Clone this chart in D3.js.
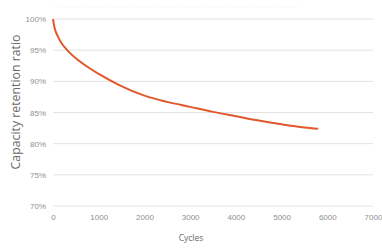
<!DOCTYPE html>
<html>
<head>
<meta charset="utf-8">
<script src="https://cdn.jsdelivr.net/npm/d3@7"></script>
<style>
body { margin: 0; background: #fff; }
.grid line { stroke: #e3e3e3; stroke-width: 1; }
.tick text { fill: #8f8f8f; font-family: "Liberation Sans", Arial, sans-serif; font-size: 8px; }
.label { fill: #6a6a6a; font-family: "Open Sans", "Noto Sans", sans-serif; }
</style>
</head>
<body>
<script>
//cycle counts and capacity retention (%)
var cycles = [0, 25, 50, 100, 200, 300, 500, 800, 1000, 1450, 2000, 2500, 3000, 3500, 4000, 4500, 5000, 5500, 5800];
var retention = [100, 98.9, 98.2, 97.3, 96.0, 95.1, 93.7, 92.1, 91.2, 89.4, 87.7, 86.7, 85.9, 85.1, 84.4, 83.7, 83.1, 82.6, 82.4];
var xTicks = [0, 1000, 2000, 3000, 4000, 5000, 6000, 7000];
var yTicks = [70, 75, 80, 85, 90, 95, 100];

window.onload = drawChart();

function drawChart(){
	var width = 382,
		height = 248;

	var svg = d3.select("body")
		.append("svg")
		.attr("width", width)
		.attr("height", height);

	var x = d3.scaleLinear().domain([0, 7000]).range([53, 373]);
	var y = d3.scaleLinear().domain([70, 100]).range([206, 19]);

	//faint title placeholder line at top
	svg.append("line")
		.attr("x1", 55).attr("x2", 300)
		.attr("y1", 7).attr("y2", 7)
		.attr("stroke", "#ececec")
		.attr("stroke-dasharray", "1,2");

	//horizontal gridlines
	svg.append("g")
		.attr("class", "grid")
		.selectAll("line")
		.data(yTicks)
		.enter()
		.append("line")
		.attr("x1", x(0)).attr("x2", x(7000))
		.attr("y1", function(d){ return y(d); })
		.attr("y2", function(d){ return y(d); });

	//y axis labels
	var yAxis = d3.axisLeft(y)
		.tickValues(yTicks)
		.tickSize(0)
		.tickPadding(7)
		.tickFormat(function(d){ return d + "%"; });
	svg.append("g")
		.attr("transform", "translate(" + x(0) + ",0)")
		.call(yAxis)
		.call(function(g){ g.select(".domain").remove(); });

	//x axis labels
	var xAxis = d3.axisBottom(x)
		.tickValues(xTicks)
		.tickSize(0)
		.tickPadding(8)
		.tickFormat(d3.format("d"));
	svg.append("g")
		.attr("transform", "translate(0," + y(70) + ")")
		.call(xAxis)
		.call(function(g){ g.select(".domain").remove(); });

	//retention curve
	var line = d3.line()
		.x(function(d, i){ return x(cycles[i]); })
		.y(function(d){ return y(d); })
		.curve(d3.curveMonotoneX);

	svg.append("path")
		.datum(retention)
		.attr("d", line)
		.attr("fill", "none")
		.attr("stroke", "#e0582b")
		.attr("stroke-width", 2);

	//axis titles
	svg.append("text")
		.attr("class", "label")
		.attr("transform", "translate(20,102) rotate(-90)")
		.attr("text-anchor", "middle")
		.attr("font-size", 12.3)
		.text("Capacity retention ratio");

	svg.append("text")
		.attr("class", "label")
		.attr("x", 191)
		.attr("y", 241)
		.attr("text-anchor", "middle")
		.attr("font-size", 8.5)
		.text("Cycles");
};
</script>
</body>
</html>
